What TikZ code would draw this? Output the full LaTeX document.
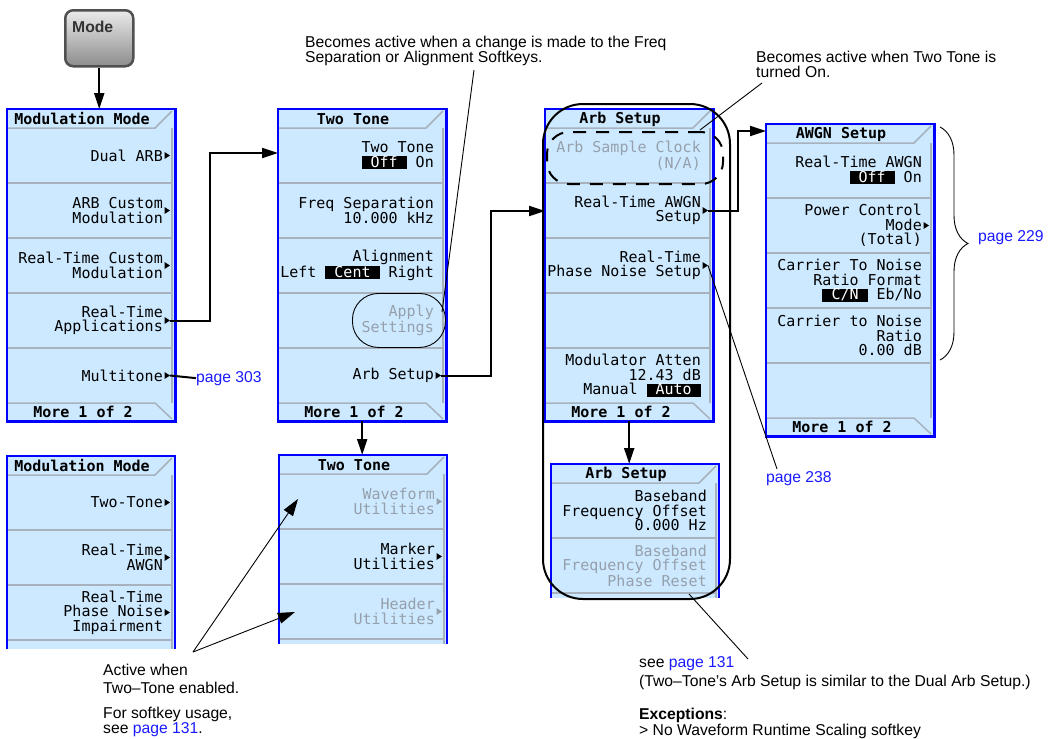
\documentclass[tikz,border=0pt]{standalone}
\usepackage{fontspec}
\setmainfont{Liberation Sans}
\newfontfamily\lcd{DejaVu Sans Mono}
\usetikzlibrary{arrows.meta,decorations.pathreplacing}
\definecolor{kfill}{RGB}{204,233,255}
\definecolor{kblue}{RGB}{0,0,255}
\definecolor{ksep}{RGB}{168,178,190}
\definecolor{kdim}{RGB}{150,160,172}
\definecolor{link}{RGB}{26,26,255}
\definecolor{btnedge}{RGB}{80,80,80}
\definecolor{btntop}{RGB}{235,235,235}
\definecolor{btnbot}{RGB}{140,140,140}
\definecolor{btntext}{RGB}{50,50,50}
\newcommand\kspc{\hspace*{0.602em}}
\newcommand\hl[1]{{\setlength{\fboxsep}{0pt}\colorbox{black}{\rule[-2pt]{0pt}{12.5pt}\textcolor{white}{\kspc#1\kspc}}}}
\tikzset{
  kt/.style={font=\lcd\fontsize{15}{14.5}\selectfont, align=right, anchor=east, inner sep=0pt},
  ktd/.style={kt, text=kdim},
  hd/.style={font=\lcd\bfseries\fontsize{15}{15}\selectfont, inner sep=0pt},
  ann/.style={font=\fontsize{15.7}{18}\selectfont, anchor=base west, inner sep=0pt},
  lnk/.style={ann, text=link},
  sepl/.style={ksep, line width=1.5pt},
  pborder/.style={kblue, line width=2.5pt},
  conn/.style={line width=2pt, -{Triangle[length=16pt,width=10pt]}},
  annl/.style={line width=0.9pt},
  bigtip/.style={annl, -{Triangle[length=17pt,width=11pt]}},
}
\newcommand\fullpanel[4]{%
  \begin{scope}[shift={(#2,#3)}]
    \node[anchor=north west, fill=kfill, minimum width=168, minimum height=312, inner sep=0pt] (#1) at (0,0) {};
    \draw[sepl] (0,19) -- (148,19) -- (165,2);
    \foreach \s in {74,129,184,239} \draw[sepl] (0,\s) -- (165,\s);
    \draw[sepl] (0,294) -- (148,294) -- (165,310);
    \draw[sepl] (165,19) -- (165,294);
    \draw[pborder] (#1.north west) rectangle (#1.south east);
    \node[hd] (#1-h) at (75,10) {#4};
    \node[hd] (#1-f) at (76,303) {More 1 of 2};
  \end{scope}}
\newcommand\cutpanel[6]{%
  \begin{scope}[shift={(#2,#3)}]
    \node[anchor=north west, fill=kfill, minimum width=168, minimum height=#4, inner sep=0pt] (#1) at (0,0) {};
    \draw[sepl] (0,19) -- (148,19) -- (165,2);
    \foreach \s in {#6} \draw[sepl] (0,\s) -- (165,\s);
    \draw[sepl] (165,19) -- (165,#4);
    \draw[pborder] (0,#4) -- (0,0) -- (168,0) -- (168,#4);
    \node[hd] (#1-h) at (75,10) {#5};
  \end{scope}}
\newcommand\tri[3]{\fill[#3] (157.5,#1-3.5) -- (163,#1) -- (157.5,#1+3.5) -- cycle; \coordinate (#2) at (163,#1);}
\begin{document}
\begin{tikzpicture}[x=1pt,y=-1pt]
\useasboundingbox (0,0) rectangle (1050,739);

% Mode hardkey
\node[draw=btnedge, line width=2.5pt, rounded corners=8pt, minimum width=68, minimum height=56,
      top color=btntop, bottom color=btnbot, anchor=north west] (mode) at (64,9) {};
\node[font=\bfseries\fontsize{15.7}{16}\selectfont, text=btntext, anchor=base west, inner sep=0pt] (modetxt) at (72,32) {Mode};

% ---------- panels ----------
\fullpanel{P1}{7}{109}{Modulation Mode}
\begin{scope}[shift={(7,109)}]
  \node[kt] (p1k1) at (156,46.5) {Dual ARB};            \tri{46.5}{p1t1}{black}
  \node[kt] (p1k2) at (156,101.5) {ARB Custom\\Modulation}; \tri{101.5}{p1t2}{black}
  \node[kt] (p1k3) at (156,156.5) {Real-Time Custom\\Modulation}; \tri{156.5}{p1t3}{black}
  \node[kt] (p1k4) at (156,211.5) {Real-Time\\Applications}; \tri{211.5}{p1t4}{black}
  \node[kt] (p1k5) at (156,266.5) {Multitone};           \tri{266.5}{p1t5}{black}
\end{scope}

\fullpanel{P2}{278}{109}{Two Tone}
\begin{scope}[shift={(278,109)}]
  \node[kt] (p2k1) at (156,46.5) {Two Tone\\\hl{Off} On};
  \node[kt] (p2k2) at (156,101.5) {Freq Separation\\10.000 kHz};
  \node[kt] (p2k3) at (156,156.5) {Alignment\\Left \hl{Cent} Right};
  \node[ktd] (p2k4) at (156,211.5) {Apply\\Settings};
  \node[kt] (p2k5) at (156,266.5) {Arb Setup};           \tri{266.5}{p2t5}{black}
\end{scope}

\fullpanel{P3}{545}{109}{Arb Setup}
\begin{scope}[shift={(545,109)}]
  \node[ktd] (p3k1) at (156,46.5) {Arb Sample Clock\\(N/A)};
  \node[kt] (p3k2) at (156,101.5) {Real-Time AWGN\\Setup}; \tri{101.5}{p3t2}{black}
  \node[kt] (p3k3) at (156,156.5) {Real-Time\\Phase Noise Setup}; \tri{156.5}{p3t3}{black}
  \node[kt] (p3k5) at (156,266.5) {Modulator Atten\\12.43 dB\\Manual \hl{Auto}};
\end{scope}

\fullpanel{P4}{766}{124}{AWGN Setup}
\begin{scope}[shift={(766,124)}]
  \node[kt] (p4k1) at (156,46.5) {Real-Time AWGN\\\hl{Off} On};
  \node[kt] (p4k2) at (156,101.5) {Power Control\\Mode\\(Total)}; \tri{101.5}{p4t2}{black}
  \node[kt] (p4k3) at (156,156.5) {Carrier To Noise\\Ratio Format\\\hl{C/N} Eb/No};
  \node[kt] (p4k4) at (156,211.5) {Carrier to Noise\\Ratio\\0.00 dB};
\end{scope}

\cutpanel{P1b}{7}{456}{193}{Modulation Mode}{74,129,184}
\begin{scope}[shift={(7,456)}]
  \node[kt] (p1bk1) at (156,46.5) {Two-Tone};               \tri{46.5}{p1bt1}{black}
  \node[kt] (p1bk2) at (156,101.5) {Real-Time\\AWGN};        \tri{101.5}{p1bt2}{black}
  \node[kt] (p1bk3) at (156,156.5) {Real-Time\\Phase Noise\\Impairment}; \tri{156.5}{p1bt3}{black}
\end{scope}

\cutpanel{P2b}{279}{455}{189}{Two Tone}{74,129,184}
\begin{scope}[shift={(279,455)}]
  \node[ktd] (p2bk1) at (156,46.5) {Waveform\\Utilities};  \tri{46.5}{p2bt1}{kdim}
  \node[kt] (p2bk2) at (156,101.5) {Marker\\Utilities};     \tri{101.5}{p2bt2}{black}
  \node[ktd] (p2bk3) at (156,156.5) {Header\\Utilities};   \tri{156.5}{p2bt3}{kdim}
\end{scope}

\cutpanel{P3b}{551}{464}{134}{Arb Setup}{74,129}
\begin{scope}[shift={(551,464)}]
  \node[kt] (p3bk1) at (156,46.5) {Baseband\\Frequency Offset\\0.000 Hz};
  \node[ktd] (p3bk2) at (156,101.5) {Baseband\\Frequency Offset\\Phase Reset};
\end{scope}

% ---------- highlight outlines ----------
\node[draw, line width=2pt, rounded corners=40pt, minimum width=187, minimum height=495, anchor=north west] (grp) at (542,103) {};
\node[draw, line width=2pt, dash pattern=on 13pt off 10pt, rounded corners=22pt, minimum width=176, minimum height=52, anchor=north west] (clk) at (546,131) {};
\node[draw, annl, rounded corners=26pt, minimum width=93, minimum height=54, anchor=north west] (apply) at (352,293) {};

% ---------- connectors ----------
\draw[conn] (mode.south) -- (mode.south |- P1.north);
\coordinate (b1) at (210,153);
\draw[conn] (p1t4) -| (b1) -- (b1 -| P2.west);
\coordinate (b2) at (491,211);
\draw[conn] (p2t5) -| (b2) -- (b2 -| P3.west);
\coordinate (b3) at (738,131);
\draw[conn] (p3t2) -| (b3) -- (b3 -| P4.west);
\draw[conn] (P2.south) -- (P2.south |- P2b.north);
\draw[conn] (P3.south) -- (P3.south |- P3b.north);

% ---------- annotations ----------
\node[ann] (n1a) at (305,47) {Becomes active when a change is made to the Freq};
\node[ann] (n1b) at (305,62) {Separation or Alignment Softkeys.};
\coordinate (a1s) at (474,70);
\coordinate (a1e) at (442,312);
\draw[annl] (a1s) -- (a1e);

\node[ann] (n2a) at (756,62) {Becomes active when Two Tone is};
\node[ann] (n2b) at (756,77) {turned On.};
\coordinate (a2s) at (762,83);
\coordinate (a2e) at (700,130);
\draw[annl] (a2s) -- (a2e);

\node[lnk] (p303) at (196,382) {page 303};
\draw[line width=2pt] (p1t5) -- (p303.west);

\draw[annl, decorate, decoration={brace, amplitude=28pt}] (940,127) -- (940,360);
\node[lnk] (p229) at (978,241) {page 229};

\node[lnk] (p238) at (766,482) {page 238};
\coordinate (a3e) at (777,469);
\draw[annl] (p3t3) -- (a3e);

\coordinate (a4s) at (689,594);
\coordinate (a4e) at (748,659);
\draw[annl] (a4s) -- (a4e);
\node[ann] (n4a) at (639,667) {see \textcolor{link}{page 131}};
\node[ann] (n4b) at (639,686) {(Two–Tone’s Arb Setup is similar to the Dual Arb Setup.)};
\node[ann] (n4c) at (639,719) {\textbf{Exceptions}:};
\node[ann] (n4d) at (639,735) {> No Waveform Runtime Scaling softkey};

\coordinate (apex) at (193,652);
\coordinate (t1) at (298,499);
\coordinate (t2) at (295,612);
\draw[bigtip] (apex) -- (t1);
\draw[bigtip] (apex) -- (t2);
\node[ann] (n3a) at (103,675) {Active when};
\node[ann] (n3b) at (103,693) {Two–Tone enabled.};
\node[ann] (n3c) at (103,718) {For softkey usage,};
\node[ann] (n3d) at (103,733) {see \textcolor{link}{page 131}.};
\end{tikzpicture}
\end{document}
